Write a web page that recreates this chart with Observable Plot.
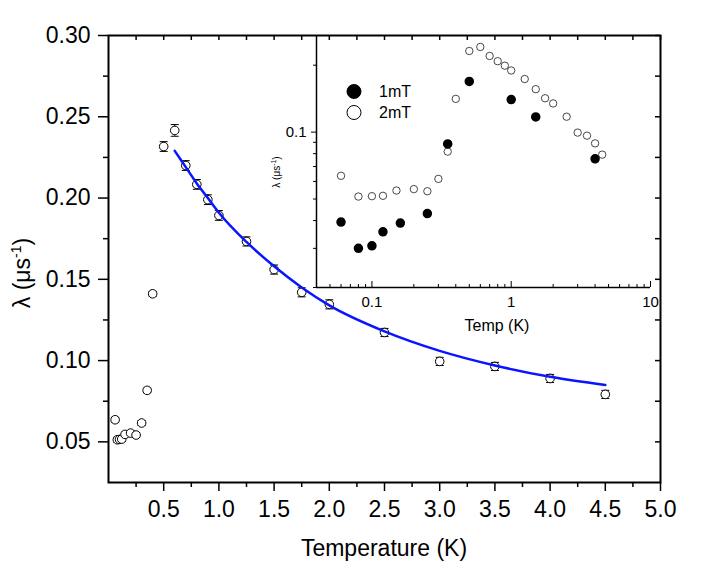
<!DOCTYPE html>
<html><head><meta charset="utf-8">
<script src="https://cdn.jsdelivr.net/npm/d3@7"></script>
<script src="https://cdn.jsdelivr.net/npm/@observablehq/plot@0.6"></script>
<style>
body{margin:0;background:#fff;}
#wrap{position:relative;width:706px;height:563px;}
#wrap svg{position:absolute;left:0;top:0;}
</style></head><body><div id="wrap"></div>
<script>
// ---- main panel data (2 mT) ----
const temps = [0.06,0.08,0.1,0.12,0.15,0.2,0.25,0.3,0.35,0.4,0.5,0.6,0.7,0.8,0.9,1.0,1.25,1.5,1.75,2.0,2.5,3.0,3.5,4.0,4.5];
const lambda2mT = [0.0636,0.0513,0.0515,0.0517,0.0546,0.0554,0.0542,0.0616,0.0817,0.1411,0.2317,0.2416,0.2200,0.2084,0.1990,0.1893,0.1733,0.1560,0.1420,0.1346,0.1173,0.0995,0.0964,0.0890,0.0792];
const err2mT = [0.0015,0.0015,0.0015,0.0015,0.0015,0.0015,0.0015,0.0015,0.0015,0.0015,0.003,0.0036,0.003,0.003,0.003,0.003,0.0028,0.0028,0.0028,0.0028,0.0025,0.0025,0.0025,0.0025,0.0025];
// fitted curve
const fitT = [0.6,0.7,0.8,0.9,1.0,1.25,1.5,1.75,2.0,2.5,3.0,3.5,4.0,4.5];
const fitL = [0.229,0.219,0.209,0.200,0.191,0.173,0.158,0.145,0.134,0.118,0.106,0.097,0.090,0.085];
// ---- inset data (1 mT) ----
const temps1mT = [0.06,0.08,0.1,0.12,0.16,0.25,0.35,0.5,1.0,1.5,4.0];
const lambda1mT = [0.0394,0.0300,0.0308,0.0356,0.0390,0.0430,0.0885,0.169,0.140,0.117,0.0758];
const seriesNames = ["1mT","2mT"];
// ---- axes ----
const xDomain = [0,5];
const yDomain = [0.025,0.30];
const xMajor = [0.5,1.0,1.5,2.0,2.5,3.0,3.5,4.0,4.5,5.0];
const xMinor = [0.25,0.75,1.25,1.75,2.25,2.75,3.25,3.75,4.25,4.75];
const yMajor = [0.05,0.10,0.15,0.20,0.25,0.30];
const yMinor = [0.075,0.125,0.175,0.225,0.275];
const insetXDomain = [0.04,10];
const insetYDomain = [0.02,0.272];
const insetXMajor = [0.1,1,10];
const insetXMinor = [0.04,0.05,0.06,0.07,0.08,0.09,0.2,0.3,0.4,0.5,0.6,0.7,0.8,0.9,2,3,4,5,6,7,8,9];
const insetYMajor = [0.1];
const insetYMinor = [0.02,0.03,0.04,0.05,0.06,0.07,0.08,0.09,0.2];

const FONT = '"Liberation Sans", Arial, Helvetica, sans-serif';
const W = 706, H = 563;
const mL = 108, mR = 46, mT = 35, mB = 81;
const innerW = W - mL - mR, innerH = H - mT - mB;

const main = temps.map((t,i)=>({t, l: lambda2mT[i], lo: lambda2mT[i]-err2mT[i], hi: lambda2mT[i]+err2mT[i]}));
const fit = fitT.map((t,i)=>({t, l: fitL[i]}));
const cap = {draw(ctx){ ctx.moveTo(-4,0); ctx.lineTo(4,0); }};

const mainPlot = Plot.plot({
  width: W, height: H, marginLeft: mL, marginRight: mR, marginTop: mT, marginBottom: mB,
  style: {fontFamily: FONT, background: "white", overflow: "visible"},
  x: {domain: xDomain, label: null},
  y: {domain: yDomain, label: null},
  marks: [
    Plot.axisX(xMajor, {anchor: "bottom", tickSize: 9, tickPadding: 9, strokeWidth: 1.5, fontSize: 23, fill: "black", tickFormat: d => d.toFixed(1), label: null}),
    Plot.axisX(xMinor, {anchor: "bottom", tickSize: 5, strokeWidth: 1.5, tickFormat: () => "", label: null}),
    Plot.axisY(yMajor, {anchor: "left", tickSize: 10, tickPadding: 8, strokeWidth: 1.5, fontSize: 23, fill: "black", tickFormat: d => d.toFixed(2), label: null}),
    Plot.axisY(yMinor, {anchor: "left", tickSize: 5, strokeWidth: 1.5, tickFormat: () => "", label: null}),
    Plot.ruleX(xMajor.concat(xMinor), {x: d => d, insetBottom: innerH - 5, strokeWidth: 1.5}),
    Plot.ruleY(yMajor.concat(yMinor), {y: d => d, insetLeft: innerW - 5, strokeWidth: 1.5}),
    Plot.frame({stroke: "black", strokeWidth: 2}),
    Plot.ruleX(main, {x: "t", y1: "lo", y2: "hi", stroke: "black", strokeWidth: 1}),
    Plot.dot(main, {x: "t", y: "hi", symbol: cap, stroke: "black", strokeWidth: 1, fill: "none"}),
    Plot.dot(main, {x: "t", y: "lo", symbol: cap, stroke: "black", strokeWidth: 1, fill: "none"}),
    Plot.dot(main, {x: "t", y: "l", r: 4.3, fill: "white", stroke: "black", strokeWidth: 1}),
    Plot.line(fit, {x: "t", y: "l", stroke: "#0a14ff", strokeWidth: 2.5, curve: "monotone-x"})
  ]
});

const inset1 = temps1mT.map((t,i)=>({t, l: lambda1mT[i]}));
const inset2 = temps.map((t,i)=>({t, l: lambda2mT[i]}));
const iL = 316, iR = 56, iT = 35, iB = 276;
const iInnerH = H - iT - iB;

const insetPlot = Plot.plot({
  width: W, height: H, marginLeft: iL, marginRight: iR, marginTop: iT, marginBottom: iB,
  style: {fontFamily: FONT, background: "transparent", overflow: "visible"},
  x: {type: "log", domain: insetXDomain, label: null},
  y: {type: "log", domain: insetYDomain, label: null},
  marks: [
    Plot.ruleX([insetXDomain[0]], {stroke: "black", strokeWidth: 1.5}),
    Plot.ruleY([insetYDomain[0]], {stroke: "black", strokeWidth: 1.5}),
    Plot.ruleX(insetXMinor, {x: d => d, insetTop: iInnerH - 3, strokeWidth: 1}),
    Plot.ruleX(insetXMajor, {x: d => d, insetTop: iInnerH - 6, strokeWidth: 1}),
    Plot.axisX(insetXMajor, {anchor: "bottom", tickSize: 0, tickPadding: 9, fontSize: 15, fill: "black", tickFormat: d => String(d), label: null}),
    Plot.axisY(insetYMinor, {anchor: "left", tickSize: 3, strokeWidth: 1, tickFormat: () => "", label: null}),
    Plot.axisY(insetYMajor, {anchor: "left", tickSize: 5, tickPadding: 5, strokeWidth: 1, fontSize: 15, fill: "black", tickFormat: d => String(d), label: null}),
    Plot.dot(inset2, {x: "t", y: "l", r: 3.7, fill: "white", stroke: "#333", strokeWidth: 0.9}),
    Plot.dot(inset1, {x: "t", y: "l", r: 4, fill: "black", stroke: "black"})
  ]
});

const wrap = document.getElementById("wrap");
wrap.appendChild(mainPlot);
wrap.appendChild(insetPlot);

// axis titles
const ms = d3.select(mainPlot);
ms.append("text").attr("x", 384).attr("y", 556).attr("text-anchor", "middle")
  .attr("font-size", 23).attr("font-family", FONT).attr("fill", "black").text("Temperature (K)");
const yt = ms.append("text").attr("transform", "translate(30,273) rotate(-90)").attr("text-anchor", "middle")
  .attr("font-size", 23).attr("font-family", FONT).attr("fill", "black");
yt.append("tspan").text("λ (μs");
yt.append("tspan").attr("font-size", 14).attr("dy", -9).text("-1");
yt.append("tspan").attr("dy", 9).text(")");

const is = d3.select(insetPlot);
is.append("text").attr("x", 497).attr("y", 331).attr("text-anchor", "middle")
  .attr("font-size", 16).attr("font-family", FONT).attr("fill", "black").text("Temp (K)");
const iyt = is.append("text").attr("transform", "translate(280,172) rotate(-90)").attr("text-anchor", "middle")
  .attr("font-size", 10).attr("font-family", FONT).attr("fill", "black");
iyt.append("tspan").text("λ (μs");
iyt.append("tspan").attr("font-size", 7).attr("dy", -4).text("-1");
iyt.append("tspan").attr("dy", 4).text(")");

// inset legend
seriesNames.forEach((name, i) => {
  const cy = 91.5 + i * 21;
  is.append("circle").attr("cx", 354).attr("cy", cy).attr("r", 7)
    .attr("fill", i === 0 ? "black" : "white").attr("stroke", "black").attr("stroke-width", 1);
  is.append("text").attr("x", 379).attr("y", cy).attr("dy", "0.35em")
    .attr("text-anchor", "start").attr("font-size", 16).attr("font-weight", "normal")
    .attr("font-family", FONT).attr("fill", "black").text(name);
});
</script>
</body></html>
